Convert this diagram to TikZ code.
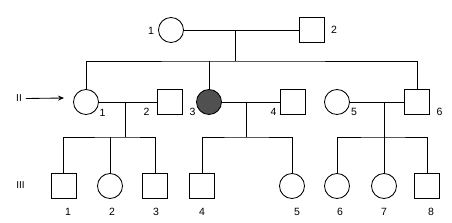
\documentclass[tikz,border=0pt]{standalone}
\usepackage{fontspec}
\setmainfont{Liberation Sans}
\usepackage{tikz}
\usetikzlibrary{
  arrows.meta,
  shapes.geometric,
  positioning,
  calc
}
\definecolor{pedLine}{HTML}{000000}
\definecolor{pedAffected}{HTML}{505050}
\tikzset{
  pednode/.style={
    draw=pedLine, line width=0.85pt, minimum size=25pt, inner sep=0pt, fill=white
  },
  male/.style={pednode, rectangle},
  female/.style={pednode, circle},
  affected/.style={fill=pedAffected},
  pedline/.style={line width=0.85pt, pedLine},
  num/.style={font=\fontsize{10.5}{12}\selectfont, inner sep=0pt},
  gen/.style={font=\fontsize{10}{12}\selectfont, inner sep=0pt},
  proband/.style={-{Stealth[length=6pt, width=5pt]}, line width=0.85pt}
}
\begin{document}
\begin{tikzpicture}[x=1pt, y=-1pt]
  \useasboundingbox (0,0) rectangle (452,222);
  % generation I
  \node[female] (I1) at (171,30) {};
  \node[male] (I2) at (312,30) {};
  \node[num] (nI1) at (151,31) {1};
  \node[num] (nI2) at (334,30) {2};
  \coordinate (mI) at (235,30);
  \coordinate (sI) at (235,61);
  % generation II
  \node[female] (II1) at (86,102) {};
  \node[male] (II2) at (170,102) {};
  \node[female, affected] (II3) at (209,102) {};
  \node[male] (II4) at (292.5,102) {};
  \node[female] (II5) at (337,102) {};
  \node[male] (II6) at (417,102) {};
  \node[num] (nII1) at (102.5,112.5) {1};
  \node[num] (nII2) at (146.5,112) {2};
  \node[num] (nII3) at (192.5,112) {3};
  \node[num] (nII4) at (273.5,111.5) {4};
  \node[num] (nII5) at (354,112) {5};
  \node[num] (nII6) at (439.5,112) {6};
  \coordinate (mII1) at (125,102);
  \coordinate (sII1) at (125,137);
  \coordinate (mII3) at (246,102);
  \coordinate (sII3) at (246,137);
  \coordinate (mII5) at (384,102);
  \coordinate (sII5) at (384,137);
  % generation III
  \node[male] (III1) at (63.5,186) {};
  \node[female] (III2) at (110,186) {};
  \node[male] (III3) at (155,186) {};
  \node[male] (III4) at (202,186) {};
  \node[female] (III5) at (292,186) {};
  \node[female] (III6) at (337,186) {};
  \node[female] (III7) at (384,186) {};
  \node[male] (III8) at (427,186) {};
  \foreach \n/\x in {1/68,2/112,3/156,4/202,5/297,6/340,7/384,8/431}
    \node[num] (nIII\n) at (\x,212) {\n};
  % generation marks
  \node[gen] (gII) at (19,98.5) {II};
  \node[gen] (gIII) at (20.5,185) {III};
  \coordinate (pa) at (64,98);
  \draw[proband] (gII.east) ++(4pt,0) coordinate (pb) -- (pa);
  % marriages
  \draw[pedline] (I1) -- (I2);
  \draw[pedline] (II1) -- (II2);
  \draw[pedline] (II3) -- (II4);
  \draw[pedline] (II5) -- (II6);
  % descent
  \draw[pedline] (mI) -- (sI);
  \draw[pedline] (II1.north) |- (sI) -| (II6.north);
  \draw[pedline] (II3.north) -- (II3.north |- sI);
  \draw[pedline] (mII1) -- (sII1);
  \draw[pedline] (III1.north) |- (sII1) -| (III3.north);
  \draw[pedline] (III2.north) -- (III2.north |- sII1);
  \draw[pedline] (mII3) -- (sII3);
  \draw[pedline] (III4.north) |- (sII3) -| (III5.north);
  \draw[pedline] (mII5) -- (sII5);
  \draw[pedline] (III6.north) |- (sII5) -| (III8.north);
  \draw[pedline] (III7.north) -- (III7.north |- sII5);
\end{tikzpicture}
\end{document}
